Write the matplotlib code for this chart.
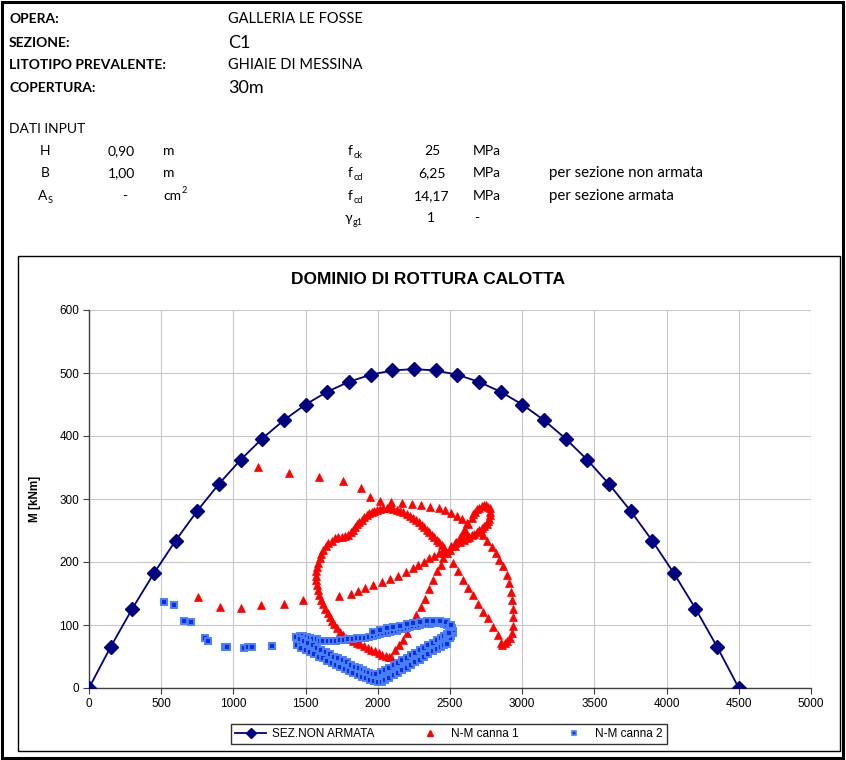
import numpy as np
import matplotlib.pyplot as plt
from matplotlib.patches import Rectangle
from matplotlib.lines import Line2D

W, H = 846, 760

# dominio sezione non armata (N [kN], M [kNm])
dom_N = [0, 150, 300, 450, 600, 750, 900, 1050, 1200, 1350, 1500, 1650, 1800, 1950, 2100, 2250,
         2400, 2550, 2700, 2850, 3000, 3150, 3300, 3450, 3600, 3750, 3900, 4050, 4200, 4350, 4500]
dom_M = [0, 65.25, 126, 182.25, 234, 281.25, 324, 362.25, 396, 425.25, 450, 470.25, 486, 497.25, 504, 506.25,
         504, 497.25, 486, 470.25, 450, 425.25, 396, 362.25, 324, 281.25, 234, 182.25, 126, 65.25, 0]

# N-M canna 1
c1_N = [757, 907, 1050, 1193, 1348, 1484,
        1733, 1812, 1861, 1914, 1969, 2029, 2084, 2140, 2195, 2242, 2281, 2320, 2357, 2389, 2422, 2449,
        2510, 2545, 2580, 2612,
        1173, 1387, 1591, 1757, 1882, 1946, 2015, 2089, 2168, 2237, 2301, 2364, 2426, 2468, 2509, 2548,
        2583, 2620,
        2627, 2650, 2660, 2673, 2688, 2703, 2720, 2735, 2750, 2765, 2775, 2777, 2776, 2772, 2765, 2754,
        2738, 2720, 2703, 2685, 2668, 2650, 2633, 2616, 2600, 2569, 2535,
        2731, 2759, 2790, 2819, 2841, 2869, 2892, 2909, 2920, 2932, 2939, 2939, 2939, 2932, 2916, 2895,
        2881, 2858,
        2523, 2558, 2592, 2627, 2661, 2696, 2731, 2765, 2800, 2835, 2851,
        2119, 2149, 2177, 2205, 2235, 2265, 2297, 2327, 2357, 2385, 2412, 2435, 2454, 2477, 2500, 2535,
        2569, 2597,
        2460, 2442, 2425, 2408, 2390, 2373, 2355, 2338, 2321, 2304, 2285, 2265, 2245, 2223, 2200, 2177,
        2154, 2131, 2108, 2084, 2061, 2038, 2017, 1997, 1977, 1958, 1940, 1923, 1905, 1888, 1873, 1858,
        1844, 1830, 1813, 1796, 1773, 1750, 1727, 1704, 1680, 1657, 1640, 1623, 1610, 1598, 1588, 1580,
        1575, 1572, 1572, 1577, 1585, 1595, 1608, 1622, 1637, 1652, 1667, 1682, 1698, 1715, 1735, 1757,
        1780, 1805, 1830, 1855, 1880, 1905, 1930, 1955, 1980, 2005, 2030, 2055, 2075, 2090]
c1_M = [145, 128, 127, 132, 134, 139,
        146, 150, 154, 159, 164, 168, 173, 178, 184, 190, 195, 200, 206, 210, 214, 217,
        225, 232, 240, 248,
        351, 342, 335, 329, 318, 303, 297, 295, 294, 292, 290, 288, 286, 283, 278, 273,
        269, 262,
        261, 270, 276, 280, 284, 286, 289, 290, 290, 288, 285, 280, 274, 269, 265, 261,
        257, 254, 251, 248, 245, 243, 240, 238, 235, 231, 226,
        243, 233, 224, 214, 203, 193, 179, 166, 153, 140, 126, 113, 98, 87, 79, 74,
        72, 68,
        198, 185, 171, 158, 148, 134, 121, 111, 97, 84, 71,
        60, 68, 76, 87, 100, 116, 129, 142, 157, 171, 185, 195, 206, 215, 219, 230,
        240, 251,
        223, 227, 231, 235, 239, 243, 247, 251, 255, 259, 263, 267, 270, 273, 276, 279,
        281, 283, 284, 285, 285, 285, 284, 283, 281, 279, 277, 275, 271, 267, 264, 260,
        256, 251, 247, 243, 241, 240, 239, 238, 234, 230, 225, 219, 213, 206, 199, 192,
        185, 178, 171, 164, 155, 147, 140, 133, 126, 119, 113, 107, 101, 95, 89, 84,
        80, 77, 75, 72, 70, 67, 64, 61, 58, 55, 53, 51, 49, 50]

# N-M canna 2
c2_N = [517, 591, 658, 706, 801, 824, 940, 958, 1073, 1101, 1129, 1270, 1434, 1438,
        1461, 1484, 1507, 1530, 1553, 1577, 1600, 1623, 1652, 1681, 1710, 1738, 1767, 1796, 1825,
        1854, 1882, 1911, 1940, 1969, 1992, 2015, 2038, 2062, 2085, 2107, 2130, 2154, 2177, 2200,
        2223, 2246, 2269, 2292, 2315, 2339, 2362, 2385, 2408, 2431, 2455, 2477, 2497, 2512, 2520,
        2519, 2510, 2500,
        1969, 2015, 2062, 2107, 2154, 2200, 2246, 2292, 2339, 2385, 2431, 2470, 2505,
        1467, 1496, 1525, 1553, 1582, 1611, 1640, 1669, 1698, 1727, 1756, 1785, 1814, 1842, 1871,
        1900, 1929, 1958, 1987, 2015, 2044, 2073, 2102, 2131, 2160, 2188, 2217, 2246, 2275, 2304,
        2333, 2362, 2390, 2419, 2442, 2465,
        1460, 1490, 1520, 1550, 1580, 1610, 1640, 1670, 1698, 1727, 1756, 1785, 1814, 1842, 1871,
        1900, 1920, 1940, 1965, 1990, 2020, 2050, 2080, 2110, 2140, 2170, 2200, 2230, 2260, 2290,
        2320, 2350, 2380, 2410, 2435, 2460, 2480, 2495,
        1470, 1500, 1530, 1560, 1590, 1620, 1650, 1680, 1710, 1740, 1770, 1800, 1830, 1860, 1890,
        1920, 1948, 1975, 2000, 2027, 2053, 2080, 2110, 2140, 2170, 2200, 2230, 2260, 2290, 2320,
        2350, 2380, 2408, 2435, 2458, 2480]
c2_M = [137, 132, 107, 104, 79, 75, 65, 65, 64, 65, 65, 66, 81, 68,
        83, 83, 81, 80, 78, 77, 75, 74, 74, 74, 75, 76, 76, 77, 78,
        79, 79, 80, 81, 83, 84, 86, 87, 88, 89, 90, 91, 93, 94, 96,
        97, 98, 99, 100, 101, 102, 102, 103, 103, 103, 102, 100, 98, 95, 91,
        87, 83, 79,
        89, 92, 95, 97, 99, 101, 103, 105, 106, 107, 107, 105, 100,
        71, 68, 64, 61, 57, 54, 50, 47, 43, 40, 37, 34, 30, 27, 24,
        22, 19, 17, 16, 15, 18, 22, 26, 30, 34, 38, 42, 47, 51, 56,
        60, 65, 68, 71, 73, 75,
        77, 74, 71, 68, 64, 61, 57, 54, 50, 47, 44, 41, 37, 34, 31,
        28, 26, 24, 22, 22, 25, 29, 32, 36, 40, 44, 48, 52, 56, 60,
        64, 68, 72, 76, 79, 82, 85, 88,
        64, 61, 57, 54, 50, 47, 43, 40, 36, 33, 30, 27, 24, 21, 18,
        16, 13, 11, 10, 10, 13, 16, 20, 24, 28, 32, 36, 41, 45, 50,
        54, 59, 62, 65, 68, 70]

NAVY = '#000080'
RED = '#ff0000'
BLUE_FACE = '#0a2ee0'
BLUE_EDGE = '#4a80ff'

plt.rcParams['font.family'] = ['Liberation Sans', 'DejaVu Sans']

fig = plt.figure(figsize=(W / 100, H / 100), dpi=100)


def fx(x):
    return x / W


def fy(y):
    return 1 - y / H


def put(x, y, s, size=10, weight='normal', ha='left', fam='Lato'):
    fig.text(fx(x), fy(y), s, fontsize=size, fontweight=weight, ha=ha, va='baseline',
             family=[fam, 'DejaVu Sans'])


def sym(x, y, base, sub=None, sup=None, size=10):
    # letter with a small subscript / superscript drawn next to it
    t = fig.text(fx(x), fy(y), base, fontsize=size, va='baseline', family=['Lato', 'DejaVu Sans'])
    fig.canvas.draw()
    bb = t.get_window_extent()
    if sub:
        fig.text(bb.x1 / W + 0.0005, fy(y + 3), sub, fontsize=size * 0.66, va='baseline',
                 family=['Lato', 'DejaVu Sans'])
    if sup:
        fig.text(bb.x1 / W + 0.0005, fy(y - 7), sup, fontsize=size * 0.66, va='baseline',
                 family=['Lato', 'DejaVu Sans'])


# intestazione
put(9, 23, 'OPERA:', weight='bold')
put(9, 47, 'SEZIONE:', weight='bold')
put(9, 69, 'LITOTIPO PREVALENTE:', weight='bold')
put(9, 92, 'COPERTURA:', weight='bold')
put(228, 23, 'GALLERIA LE FOSSE', size=10.5)
put(228, 48, 'C1', size=13)
put(228, 69, 'GHIAIE DI MESSINA', size=10.5)
put(228, 93, '30m', size=13)

put(9, 133, 'DATI INPUT')
put(40, 155, 'H')
put(108, 155, '0,90')
put(163, 155, 'm')
put(41, 177, 'B')
put(108, 177, '1,00')
put(163, 177, 'm')
sym(38, 200, 'A', sub='S')
put(122, 200, '-')
sym(163, 200, 'cm', sup='2')

sym(348, 155, 'f', sub='ck')
sym(348, 177, 'f', sub='cd')
sym(348, 200, 'f', sub='cd')
sym(345, 222, 'γ', sub='g1')
put(432, 155, '25', ha='center')
put(432, 177, '6,25', ha='center')
put(432, 200, '14,17', ha='center')
put(431, 222, '1', ha='center')
put(473, 155, 'MPa')
put(473, 177, 'MPa')
put(473, 200, 'MPa')
put(474, 222, '-')
put(549, 177, 'per sezione non armata', size=10.8)
put(549, 200, 'per sezione armata', size=10.8)

# bordi
fig.patches.append(Rectangle((fx(2), fy(758)), fx(841), 756 / H, transform=fig.transFigure,
                             fill=False, edgecolor='black', lw=2.2))
fig.patches.append(Rectangle((fx(18), fy(751)), fx(822), 495 / H, transform=fig.transFigure,
                             fill=False, edgecolor='black', lw=1.0))

# grafico
ax = fig.add_axes([fx(89), fy(688), fx(722), 378 / H])
ax.plot(dom_N, dom_M, color=NAVY, lw=1.3, marker='D', ms=7.5, mfc=NAVY, mec=NAVY, zorder=3)
ax.plot(c1_N, c1_M, ls='none', marker='^', ms=5.6, mfc=RED, mec=RED, mew=0.5, zorder=4)
ax.plot(c2_N, c2_M, ls='none', marker='s', ms=4.3, mfc=BLUE_FACE, mec=BLUE_EDGE, mew=1.4, zorder=5)

ax.set_xlim(0, 5000)
ax.set_ylim(0, 600)
ax.set_xticks(np.arange(0, 5001, 500))
ax.set_yticks(np.arange(0, 601, 100))
ax.grid(True, color='#c8c8c8', lw=0.8)
ax.set_axisbelow(True)
for s in ['top', 'right']:
    ax.spines[s].set_visible(False)
for s in ['left', 'bottom']:
    ax.spines[s].set_color('#404040')
    ax.spines[s].set_linewidth(1.0)
ax.tick_params(direction='out', length=4, width=0.8, color='#404040', labelsize=8.5, pad=3)

fig.text(fx(428), fy(280), 'DOMINIO DI ROTTURA CALOTTA', fontsize=12.5, fontweight='bold',
         ha='center', va='center')
fig.text(fx(35), fy(499), 'M [kNm]', fontsize=8.5, fontweight='bold', rotation=90,
         ha='center', va='center')

handles = [
    Line2D([], [], color=NAVY, lw=1.3, marker='D', ms=5, mfc=NAVY, mec=NAVY),
    Line2D([], [], ls='none', marker='^', ms=5, mfc=RED, mec=RED),
    Line2D([], [], ls='none', marker='s', ms=3.5, mfc=BLUE_FACE, mec=BLUE_EDGE, mew=1.2),
]
leg = fig.legend(handles, ['SEZ.NON ARMATA', 'N-M canna 1', 'N-M canna 2'], ncol=3,
                 loc='center', bbox_to_anchor=(fx(449), fy(734)), fontsize=8.5,
                 frameon=True, fancybox=False, edgecolor='black', handlelength=2.6,
                 handletextpad=0.5, columnspacing=3.4, borderpad=0.35)
leg.get_frame().set_linewidth(1.0)

fig.savefig('out.png', dpi=100)
